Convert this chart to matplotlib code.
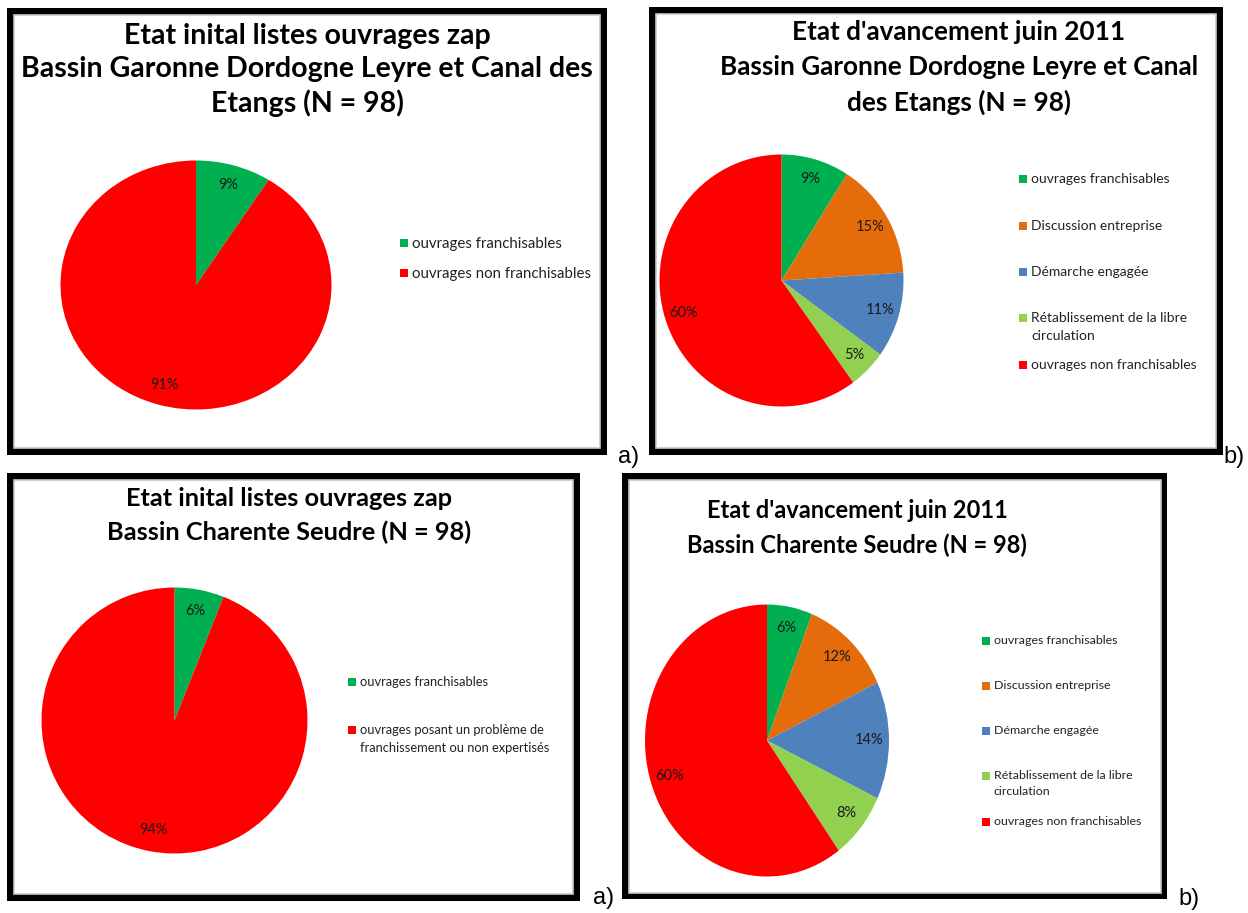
import matplotlib
matplotlib.use("Agg")
import matplotlib.pyplot as plt
from matplotlib.patches import Rectangle

W, H = 1248, 913

# ---------------------------------------------------------------------------
# Data
# ---------------------------------------------------------------------------
GREEN, ORANGE, BLUE, LGREEN, RED = '#00B050', '#E46C0A', '#4F81BD', '#92D050', '#FF0000'

init_garonne_labels = ["ouvrages franchisables", "ouvrages non franchisables"]
init_garonne_values = [9, 91]
init_garonne_colors = [GREEN, RED]

juin_labels = ["ouvrages franchisables", "Discussion entreprise", "Démarche engagée",
               "Rétablissement de la libre\ncirculation", "ouvrages non franchisables"]
juin_colors = [GREEN, ORANGE, BLUE, LGREEN, RED]
juin_garonne_values = [9, 15, 11, 5, 60]

init_charente_labels = ["ouvrages franchisables",
                        "ouvrages posant un problème de\nfranchissement ou non expertisés"]
init_charente_values = [6, 94]
init_charente_colors = [GREEN, RED]

juin_charente_values = [6, 12, 14, 8, 60]

titles = [
    ["Etat inital listes ouvrages zap", "Bassin Garonne Dordogne Leyre et Canal des", "Etangs (N = 98)"],
    ["Etat d'avancement juin 2011", "Bassin Garonne Dordogne Leyre et Canal", "des Etangs (N = 98)"],
    ["Etat inital listes ouvrages zap", "Bassin Charente Seudre (N = 98)"],
    ["Etat d'avancement juin 2011", "Bassin Charente Seudre (N = 98)"],
]

# ---------------------------------------------------------------------------
# Layout (pixels)
# ---------------------------------------------------------------------------
panels = [
    dict(box=(7, 8, 607, 455), bw=7,
         title_x=307, title_y=[36, 69, 103], title_fs=20.5,
         pie=(196, 285, 135.5, 124.5),
         values=init_garonne_values, colors=init_garonne_colors, labels=init_garonne_labels,
         leg_x=404, leg_y=[243, 273], leg_fs=10.8, tag='a)', tag_xy=(629, 457)),
    dict(box=(649, 7, 1223, 455), bw=7,
         title_x=959, title_y=[32, 67, 102], title_fs=18.8,
         pie=(781.5, 280.5, 122, 126),
         values=juin_garonne_values, colors=juin_colors, labels=juin_labels,
         leg_x=1023, leg_y=[179, 226, 272, 318, 365], leg_fs=10, tag='b)', tag_xy=(1234, 457)),
    dict(box=(7, 473, 580, 901), bw=7,
         title_x=289, title_y=[498, 532], title_fs=18.3,
         pie=(174.5, 720.5, 133, 133),
         values=init_charente_values, colors=init_charente_colors, labels=init_charente_labels,
         leg_x=352, leg_y=[682, 730], leg_fs=9.3, tag='a)', tag_xy=(604, 898)),
    dict(box=(622, 473, 1167, 899), bw=6.5,
         title_x=857, title_y=[511, 545], title_fs=17,
         pie=(767, 740.5, 122, 136),
         values=juin_charente_values, colors=juin_colors, labels=juin_labels,
         leg_x=985.5, leg_y=[641, 686, 731, 776, 822], leg_fs=8.9, tag='b)', tag_xy=(1189, 899)),
]


def fbox(x0, y0, x1, y1):
    return [x0 / W, 1 - y1 / H, (x1 - x0) / W, (y1 - y0) / H]


def fx(x):
    return x / W


def fy(y):
    return 1 - y / H


fig = plt.figure(figsize=(W / 100, H / 100), dpi=100)
fig.patch.set_facecolor('white')

for p, title_lines in zip(panels, titles):
    x0, y0, x1, y1 = p['box']
    bw = p['bw']
    # black frame + white inner area
    fig.add_artist(Rectangle((fx(x0), fy(y1)), fx(x1 - x0), (y1 - y0) / H,
                             transform=fig.transFigure, facecolor='black',
                             edgecolor='none', zorder=-2))
    fig.add_artist(Rectangle((fx(x0 + bw), fy(y1 - bw)), fx(x1 - x0 - 2 * bw),
                             (y1 - y0 - 2 * bw) / H, transform=fig.transFigure,
                             facecolor='white', edgecolor='#c8c8c8', linewidth=1.2,
                             zorder=-1))

    for line, ty in zip(title_lines, p['title_y']):
        fig.text(fx(p['title_x']), fy(ty), line, ha='center', va='center',
                 fontsize=p['title_fs'], fontweight='bold', family='Lato', color='black')

    cx, cy, rx, ry = p['pie']
    ax = fig.add_axes(fbox(cx - rx, cy - ry, cx + rx, cy + ry))
    ax.pie(p['values'], colors=p['colors'], startangle=90, counterclock=False,
           autopct=lambda v: f"{v:.0f}%", pctdistance=0.84, radius=1,
           wedgeprops=dict(linewidth=0),
           textprops=dict(fontsize=10.5, family='Lato', color='#1a1a1a'))
    ax.set_aspect('auto')
    ax.set_xlim(-1, 1)
    ax.set_ylim(-1, 1)
    ax.axis('off')

    sq = 8
    for lab, col, ly in zip(p['labels'], p['colors'], p['leg_y']):
        fig.add_artist(Rectangle((fx(p['leg_x'] - sq / 2), fy(ly + sq / 2)), sq / W, sq / H,
                                 transform=fig.transFigure, facecolor=col,
                                 edgecolor='none'))
        fig.text(fx(p['leg_x'] + 8), fy(ly - 6), lab, ha='left', va='top',
                 fontsize=p['leg_fs'], family='Lato', color='#222222', linespacing=1.55)

    fig.text(fx(p['tag_xy'][0]), fy(p['tag_xy'][1]), p['tag'], ha='center', va='center',
             fontsize=17, family='Liberation Sans', color='black')

fig.savefig("out.png", dpi=100, facecolor='white')
